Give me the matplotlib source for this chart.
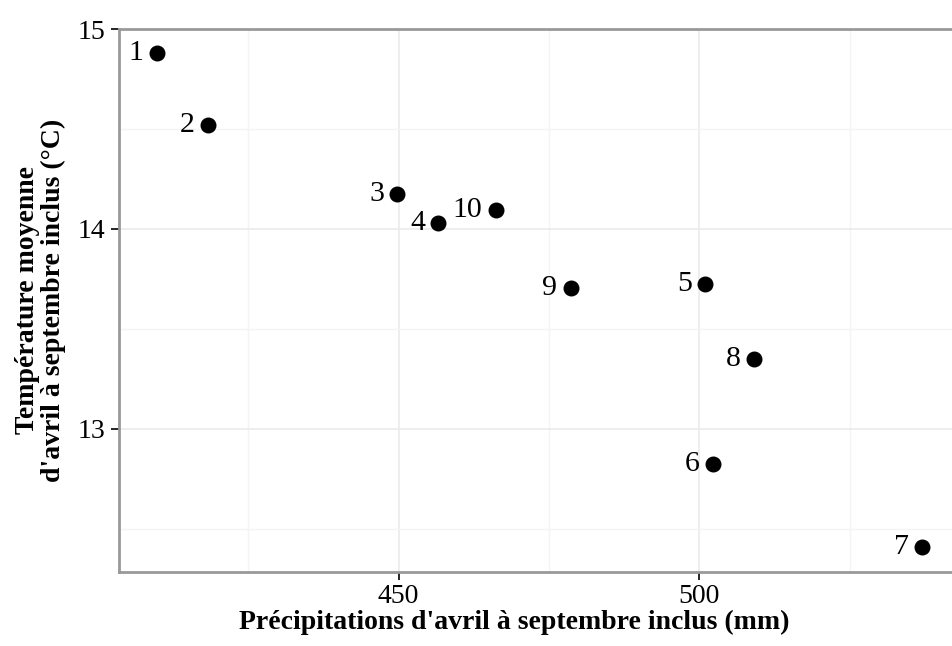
import matplotlib.pyplot as plt
from matplotlib.ticker import MultipleLocator

# numéros des points et valeurs
numeros = ["1", "2", "3", "4", "5", "6", "7", "8", "9", "10"]
precipitations = [409.8, 418.3, 449.8, 456.6, 501.0, 502.3, 537.0, 509.0, 478.6, 466.1]
temperatures = [14.88, 14.52, 14.175, 14.03, 13.725, 12.825, 12.41, 13.35, 13.705, 14.095]

plt.rcParams['font.family'] = ['Liberation Serif', 'DejaVu Serif']

fig = plt.figure(figsize=(9.52, 6.46), dpi=100)
ax = fig.add_axes([0.125, 0.1146, 0.875, 0.8405])

ax.scatter(precipitations, temperatures, s=110, color="black", zorder=3)
for n, x, y in zip(numeros, precipitations, temperatures):
    ax.annotate(n, (x, y), xytext=(-9.5, 0), textcoords="offset points",
                ha="right", va="center", fontsize=21.5)

ax.set_xlim(403.5, 542)
ax.set_ylim(12.285, 15.0)
ax.xaxis.set_major_locator(MultipleLocator(50))
ax.xaxis.set_minor_locator(MultipleLocator(25))
ax.yaxis.set_major_locator(MultipleLocator(1))
ax.yaxis.set_minor_locator(MultipleLocator(0.5))

ax.grid(True, which="major", color="#ebebeb", linewidth=1.2)
ax.grid(True, which="minor", color="#f4f4f4", linewidth=1.0)
ax.set_axisbelow(True)

for s in ["left", "bottom", "top"]:
    ax.spines[s].set_color("#999999")
    ax.spines[s].set_linewidth(2)
ax.spines["right"].set_visible(False)

ax.tick_params(which="major", length=6, width=1.2, color="black", labelsize=20, pad=3)
ax.tick_params(axis="y", pad=4)
ax.tick_params(which="minor", length=0)

ax.set_xlabel("Précipitations d'avril à septembre inclus (mm)", fontsize=20,
              fontweight="bold", labelpad=0)
ax.xaxis.label.set_x(0.474)
ax.set_ylabel("Température moyenne\nd'avril à septembre inclus (°C)", fontsize=20,
              fontweight="bold", labelpad=8, linespacing=1.05)

fig.savefig("out.png", dpi=100)
